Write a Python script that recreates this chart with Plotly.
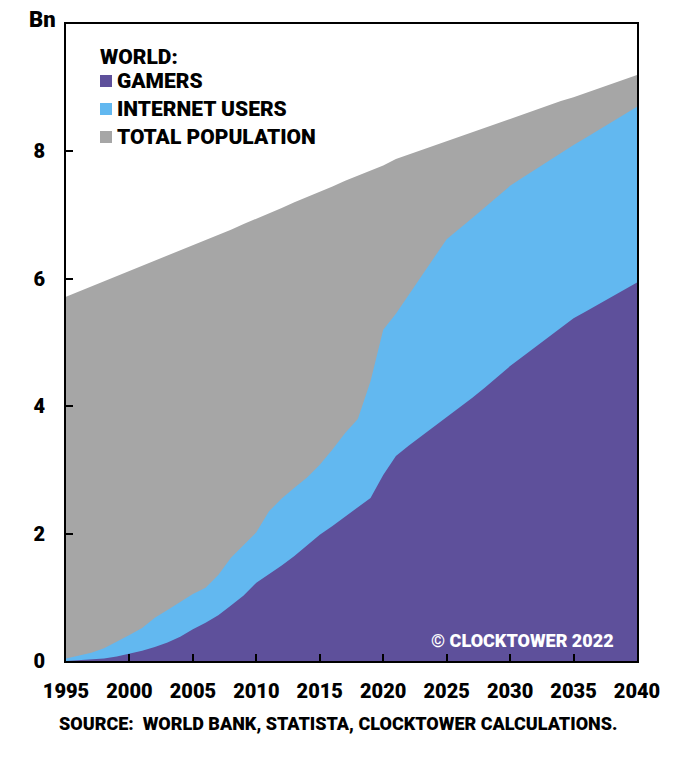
import plotly.graph_objects as go

years = list(range(1995, 2041))

population = [5.72, 5.80, 5.88, 5.96, 6.04, 6.12, 6.20, 6.28, 6.36, 6.44,
              6.52, 6.60, 6.69, 6.77, 6.86, 6.94, 7.03, 7.11, 7.20, 7.28,
              7.37, 7.45, 7.54, 7.62, 7.70, 7.78, 7.88, 7.95, 8.02, 8.09,
              8.17, 8.24, 8.31, 8.38, 8.45, 8.52, 8.59, 8.65, 8.72, 8.79,
              8.85, 8.92, 8.99, 9.06, 9.13, 9.20]

internet_users = [0.04, 0.08, 0.13, 0.20, 0.30, 0.41, 0.52, 0.68, 0.80, 0.92,
                  1.05, 1.15, 1.35, 1.62, 1.82, 2.02, 2.35, 2.55, 2.72, 2.88,
                  3.08, 3.32, 3.58, 3.80, 4.39, 5.20, 5.45, 5.75, 6.05, 6.33,
                  6.62, 6.78, 6.95, 7.12, 7.29, 7.46, 7.59, 7.72, 7.85, 7.98,
                  8.10, 8.22, 8.34, 8.46, 8.58, 8.70]

gamers = [0.00, 0.01, 0.02, 0.04, 0.07, 0.11, 0.16, 0.22, 0.29, 0.38,
          0.50, 0.60, 0.72, 0.87, 1.03, 1.23, 1.36, 1.50, 1.65, 1.81,
          1.98, 2.12, 2.27, 2.42, 2.56, 2.92, 3.22, 3.38, 3.53, 3.67,
          3.82, 3.98, 4.13, 4.29, 4.46, 4.63, 4.78, 4.93, 5.08, 5.23,
          5.38, 5.49, 5.60, 5.71, 5.82, 5.94]

series_names = ["GAMERS", "INTERNET USERS", "TOTAL POPULATION"]
colors = {"GAMERS": "#5E509B", "INTERNET USERS": "#62B8F0", "TOTAL POPULATION": "#A6A6A6"}

x_ticks = [1995, 2000, 2005, 2010, 2015, 2020, 2025, 2030, 2035, 2040]
y_ticks = [0, 2, 4, 6, 8]

FONT = "Roboto"
WT = 900

fig = go.Figure()
for name, vals in [("TOTAL POPULATION", population),
                   ("INTERNET USERS", internet_users),
                   ("GAMERS", gamers)]:
    fig.add_trace(go.Scatter(x=years, y=vals, name=name, mode="lines",
                             line=dict(width=0, color=colors[name]),
                             fill="tozeroy", fillcolor=colors[name],
                             showlegend=False, hoverinfo="skip"))

# page body has an 8px margin; figure sized to fit the 700x757 window
OFF = 8
W, H = 700 - 2 * OFF, 757 - 2 * OFF
PL, PR, PT, PB = 66, 637, 24, 661          # plot box in page pixels
L, T = PL - OFF, PT - OFF
R, B = W - (PR - OFF), H - (PB - OFF)
pw, ph = PR - PL, PB - PT

def px(xp):
    return (xp - PL) / pw

def py(yp):
    return (PB - yp) / ph

fig.update_layout(
    width=W, height=H,
    margin=dict(l=L, r=R, t=T, b=B),
    paper_bgcolor="white", plot_bgcolor="white",
    font=dict(family=FONT, color="black", size=18, weight=WT),
    showlegend=False,
)
fig.update_xaxes(range=[1995, 2040], tickvals=x_ticks, ticks="inside", ticklen=7,
                 tickwidth=1.5, tickcolor="black", showgrid=False, zeroline=False,
                 showline=True, linecolor="black", linewidth=1.8, mirror=True,
                 ticklabelstandoff=11, tickfont=dict(size=20, family=FONT, weight=WT))
fig.update_yaxes(range=[0, 10], tickvals=y_ticks, ticks="inside", ticklen=7,
                 tickwidth=1.5, tickcolor="black", showgrid=False, zeroline=False,
                 showline=True, linecolor="black", linewidth=1.8, mirror=True,
                 ticklabelstandoff=15, tickfont=dict(size=20, family=FONT, weight=WT))

ann = []
ann.append(dict(text="Bn", x=px(42), y=py(20), xref="paper", yref="paper",
                xanchor="center", yanchor="middle", showarrow=False,
                font=dict(size=22, family=FONT, weight=WT)))
ann.append(dict(text="WORLD:", x=px(98), y=py(57), xref="paper", yref="paper",
                xanchor="left", yanchor="middle", showarrow=False,
                font=dict(size=21, family=FONT, weight=WT)))
shapes = []
for name, ycen in zip(series_names, [81, 109, 137]):
    ann.append(dict(text=name, x=px(115), y=py(ycen), xref="paper", yref="paper",
                    xanchor="left", yanchor="middle", showarrow=False,
                    font=dict(size=21, family=FONT, weight=WT)))
    shapes.append(dict(type="rect", xref="paper", yref="paper",
                       x0=px(100), x1=px(112), y0=py(ycen + 6), y1=py(ycen - 6),
                       fillcolor=colors[name], line=dict(width=0)))
ann.append(dict(text="© CLOCKTOWER 2022", x=px(616), y=py(640), xref="paper", yref="paper",
                xanchor="right", yanchor="middle", showarrow=False,
                font=dict(size=18, family=FONT, weight=WT, color="white")))
ann.append(dict(text="SOURCE:  WORLD BANK, STATISTA, CLOCKTOWER CALCULATIONS.",
                x=px(338), y=py(723), xref="paper", yref="paper",
                xanchor="center", yanchor="middle", showarrow=False,
                font=dict(size=18, family=FONT, weight=WT)))
fig.update_layout(annotations=ann, shapes=shapes)

fig.write_html("out.html")
